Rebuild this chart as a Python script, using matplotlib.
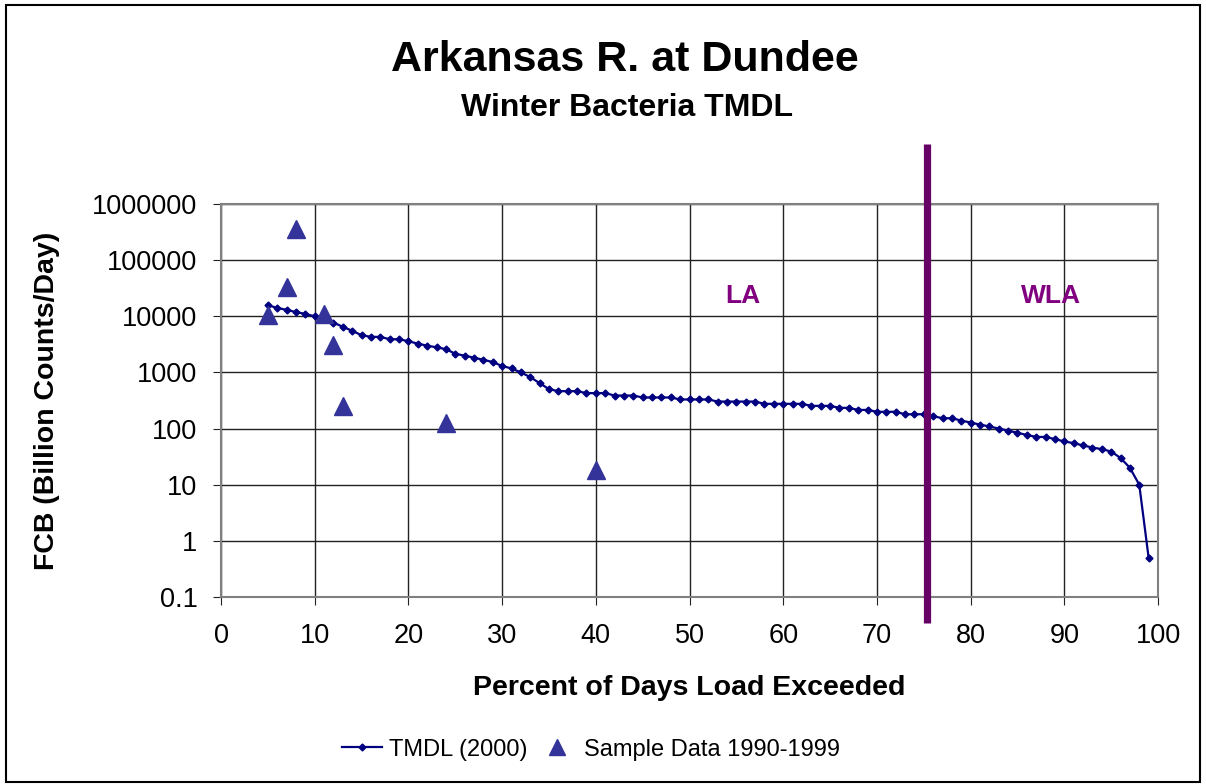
import matplotlib
matplotlib.use('agg')
import matplotlib.pyplot as plt
from matplotlib.patches import Rectangle
import matplotlib.transforms as mtrans

plt.rcParams['font.family'] = ['Liberation Sans', 'DejaVu Sans']

# TMDL curve, one point per percent (5..99)
pct = list(range(5, 100))
tmdl = [15700, 14100, 13000, 11900, 11000, 10000, 8800, 7700, 6500, 5500,
        4600, 4300, 4300, 3900, 3900, 3600, 3250, 3000, 2800, 2600,
        2150, 1990, 1830, 1680, 1530, 1300, 1180, 1000, 826, 645,
        504, 464, 464, 464, 428, 428, 428, 388, 388, 388,
        358, 358, 358, 358, 330, 330, 330, 330, 303, 303,
        303, 303, 303, 276, 276, 276, 276, 276, 254, 254,
        254, 234, 234, 215, 215, 199, 199, 199, 180, 180,
        180, 166, 153, 153, 139, 128, 118, 109, 100, 92,
        84, 77, 71, 71, 65, 59, 55, 50, 46, 43,
        39, 30, 20, 10, 0.5]

# sample data 1990-1999
samp_x = [5, 7, 8, 11, 12, 13, 24, 40]
samp_y = [10700, 33000, 360000, 11000, 3030, 254, 128, 18]

split_pct = 75.3
zone_labels = ['LA', 'WLA']
zone_x = [55.7, 88.6]
zone_y = 23000

fig = plt.figure(figsize=(12.06, 7.84), dpi=100)
ax = fig.add_axes([0.1833, 0.2385, 0.9602 - 0.1833, 0.7398 - 0.2385])

ax.plot(pct, tmdl, color='#000080', lw=1.6, marker='D', ms=3.5,
        label='TMDL (2000)', zorder=3)
ax.plot(samp_x, samp_y, ls='none', marker='^', ms=13.5, color='#333399',
        label='Sample Data 1990-1999', zorder=4)

ax.set_yscale('log')
ax.set_ylim(0.1, 1e6)
ax.set_xlim(0, 100)
ax.set_xticks(range(0, 101, 10))
yt = [0.1, 1, 10, 100, 1000, 10000, 100000, 1000000]
ax.set_yticks(yt)
ax.set_yticklabels(['0.1', '1', '10', '100', '1000', '10000', '100000', '1000000'])
ax.minorticks_off()
ax.grid(True, color='#222222', lw=1)
ax.set_axisbelow(True)
for s in ax.spines.values():
    s.set_color('#808080')
    s.set_linewidth(1.5)
ax.tick_params(labelsize=19.5, length=6, color='#222222')
ax.tick_params(axis='y', pad=11)
ax.tick_params(axis='x', pad=13)

ax.set_xlabel('Percent of Days Load Exceeded', fontsize=20.5, fontweight='bold', va='center')
ax.set_ylabel('FCB (Billion Counts/Day)', fontsize=20.5, fontweight='bold', va='center')
ax.xaxis.set_label_coords(0.5, -0.231)
ax.yaxis.set_label_coords(-0.186, 0.5)

# LA / WLA divider
trans = mtrans.blended_transform_factory(ax.transData, ax.transAxes)
ax.plot([split_pct, split_pct], [-0.066, 1.153], color='#660066', lw=5.2,
        transform=trans, clip_on=False, zorder=5, solid_capstyle='butt')
for lab, zx in zip(zone_labels, zone_x):
    ax.text(zx, zone_y, lab, color='#800080', fontsize=19, fontweight='bold',
            ha='center', va='center')

fig.text(0.518, 0.924, 'Arkansas R. at Dundee', fontsize=31, fontweight='bold',
         ha='center', va='center')
fig.text(0.52, 0.862, 'Winter Bacteria TMDL', fontsize=23, fontweight='bold',
         ha='center', va='center')

leg = fig.legend(loc='center', bbox_to_anchor=(0.49, 0.044), ncol=2, frameon=False,
                 fontsize=17, handlelength=1.7, columnspacing=0.42, handletextpad=0.3)
leg.legend_handles[1].set_markersize(11)

fig.patches.append(Rectangle((0.005, 0.003), 0.99, 0.99, transform=fig.transFigure,
                             fill=False, edgecolor='black', lw=1.5))

fig.savefig('out.png', dpi=100)
